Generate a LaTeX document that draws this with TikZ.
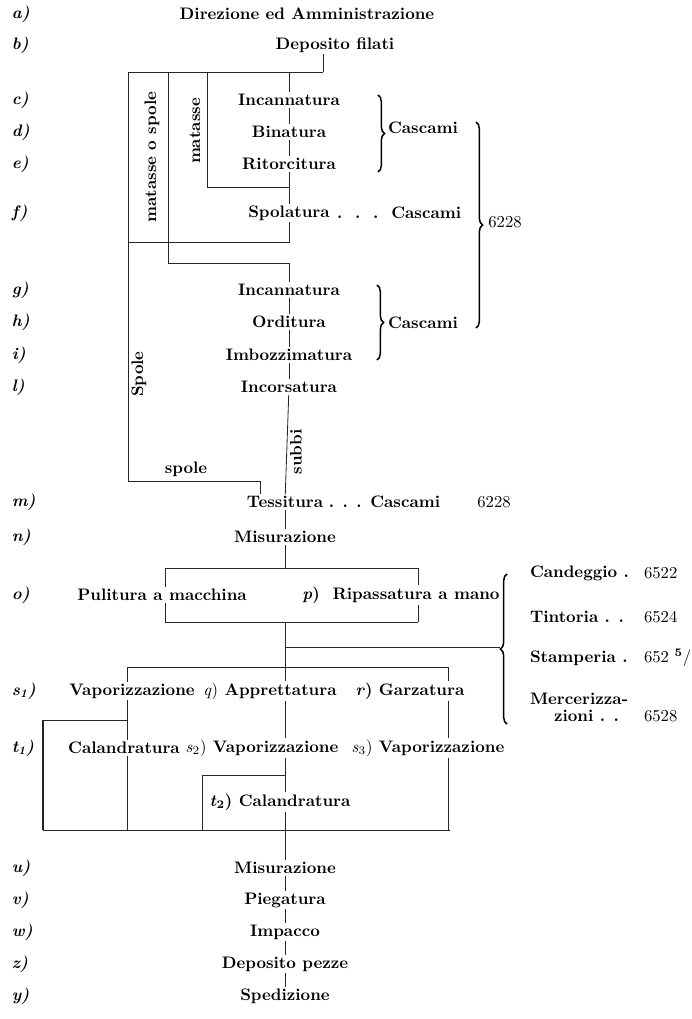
\documentclass[tikz,border=0pt]{standalone}
\usetikzlibrary{positioning,decorations.pathreplacing}
\begin{document}
\begin{tikzpicture}[x=0.6pt,y=-0.6pt]
    % Define the styles for the stages, letters, lines and braces
    \tikzstyle{stage}=[font=\bfseries, inner sep=1pt]
    \tikzstyle{plain}=[inner sep=1pt]
    \tikzstyle{letter}=[font=\bfseries\itshape, inner sep=1pt, anchor=west]
    \tikzstyle{side}=[font=\bfseries, inner sep=1pt, rotate=90]
    \tikzstyle{link}=[line width=0.5pt, black!85]
    \tikzstyle{cbrace}=[line width=0.9pt, decorate, decoration={brace, amplitude=4pt}]

    \useasboundingbox (0,0) rectangle (692,1019);

    % Draw the row letters
    \node[letter] (la) at (10,14) {a)};
    \node[letter] (lb) at (10,45) {b)};
    \node[letter] (lc) at (10,100) {c)};
    \node[letter] (ld) at (10,132) {d)};
    \node[letter] (le) at (10,164) {e)};
    \node[letter] (lf) at (10,213) {f)};
    \node[letter] (lg) at (10,290) {g)};
    \node[letter] (lh) at (10,322) {h)};
    \node[letter] (li) at (10,355) {i)};
    \node[letter] (ll) at (10,387) {l)};
    \node[letter] (lm) at (10,502) {m)};
    \node[letter] (ln) at (10,537) {n)};
    \node[letter] (lo) at (10,595) {o)};
    \node[letter] (ls) at (10,691) {s\textsubscript{1})};
    \node[letter] (lt) at (10,748) {t\textsubscript{1})};
    \node[letter] (lu) at (10,868) {u)};
    \node[letter] (lv) at (10,900) {v)};
    \node[letter] (lw) at (10,932) {w)};
    \node[letter] (lz) at (10,964) {z)};
    \node[letter] (ly) at (10,996) {y)};

    % Draw the stages of the upper part
    \node[stage] (direz) at (307,14) {Direzione ed Amministrazione};
    \node[stage] (depfil) at (335,45) {Deposito filati};
    \node[stage] (incann1) at (289,100) {Incannatura};
    \node[stage] (binat) at (289,132) {Binatura};
    \node[stage] (ritorc) at (289,164) {Ritorcitura};
    \node[stage] (spolat) at (289,213) {Spolatura};
    \node[stage, right=2pt of spolat] (spolcasc) {.\ \ .\ \ .\ \ Cascami};
    \node[stage] (cascA) at (423,128) {Cascami};
    \node[plain] (num1) at (505,222) {6228};
    \node[stage] (incann2) at (289,290) {Incannatura};
    \node[stage] (ordit) at (289,322) {Orditura};
    \node[stage] (imbozz) at (289,355) {Imbozzimatura};
    \node[stage] (incors) at (289,387) {Incorsatura};
    \node[stage] (cascB) at (423,323) {Cascami};

    % Draw the labels along the lines
    \node[side] (lmatsp) at (152,157) {matasse o spole};
    \node[side] (lmat) at (195,131) {matasse};
    \node[side] (lSpole) at (139,374) {Spole};
    \node[stage] (lspole) at (186,469) {spole};
    \node[side] (lsubbi) at (296,452) {subbi};

    % Draw the stages of the lower part
    \node[stage] (tessit) at (285,502) {Tessitura};
    \node[stage, right=1pt of tessit] (tesscasc) {. . . Cascami};
    \node[plain] (num2) at (494,502) {6228};
    \node[stage] (misur1) at (285,537) {Misurazione};
    \node[stage] (pulit) at (162,595) {Pulitura a macchina};
    \node[stage] (ripass) at (401,595) {\textit{p})\ \ Ripassatura a mano};
    \node[stage] (vapor1) at (132,691) {Vaporizzazione};
    \node[stage] (appret) at (270,691) {\textmd{\textit{q})} Apprettatura};
    \node[stage] (garzat) at (410,691) {\textit{r}) Garzatura};
    \node[stage] (caland1) at (124,748) {Calandratura};
    \node[stage] (vapor2) at (262,748) {\textmd{\textit{s}\textsubscript{2})} Vaporizzazione};
    \node[stage] (vapor3) at (428,748) {\textmd{\textit{s}\textsubscript{3})} Vaporizzazione};
    \node[stage] (caland2) at (280,802) {\textit{t}\textsubscript{2}) Calandratura};
    \node[stage] (misur2) at (285,868) {Misurazione};
    \node[stage] (piegat) at (285,900) {Piegatura};
    \node[stage] (impacc) at (285,932) {Impacco};
    \node[stage] (deppez) at (285,964) {Deposito pezze};
    \node[stage] (spediz) at (285,996) {Spedizione};

    % Draw the finishing works on the right
    \node[stage, anchor=west] (candeg) at (528,573) {Candeggio .};
    \node[plain, anchor=west] (n6522) at (642,573) {6522};
    \node[stage, anchor=west] (tintor) at (528,617) {Tintoria . .};
    \node[plain, anchor=west] (n6524) at (642,617) {6524};
    \node[stage, anchor=west] (stamp) at (528,658) {Stamperia .};
    \node[plain, anchor=west] (n652) at (642,658) {652 \textsuperscript{\bfseries 5}/};
    \node[stage, anchor=west] (mercer) at (528,699) {Mercerizza-};
    \node[stage, anchor=west] (zioni) at (552,716) {zioni . .};
    \node[plain, anchor=west] (n6528) at (642,716) {6528};

    % Corners of the lines
    \coordinate (busL) at (128,72);
    \coordinate (busR) at (323,72);
    \coordinate (msT) at (168,72);
    \coordinate (msB) at (168,263);
    \coordinate (mT) at (207,72);
    \coordinate (mB) at (207,187);
    \coordinate (splitA) at (128,242);
    \coordinate (spoleC) at (128,481);
    \coordinate (spoleD) at (260,481);
    \coordinate (boxTL) at (165,568);
    \coordinate (boxTR) at (418,568);
    \coordinate (boxBL) at (165,622);
    \coordinate (boxBR) at (418,622);
    \coordinate (dyeTip) at (500,647);
    \coordinate (sL) at (127,667);
    \coordinate (sM) at (285,667);
    \coordinate (sR) at (448,667);
    \coordinate (t1box) at (43,720);
    \coordinate (t2box) at (202,775);
    \coordinate (botL) at (43,830);
    \coordinate (botR) at (450,830);

    % Draw the lines of the upper part
    \draw[link] (busR |- depfil.south) -- (busR);
    \draw[link] (busL) -- (busR);
    \draw[link] (busL) -- (spoleC) -- (spoleD) -- (spoleD |- tessit.north);
    \draw[link] (msT) -- (msB) -- (msB -| incann2) -- (incann2.north);
    \draw[link] (mT) -- (mB) -- (mB -| ritorc);
    \draw[link] (busR -| incann1) -- (incann1.north);
    \draw[link] (incann1) -- (binat);
    \draw[link] (binat) -- (ritorc);
    \draw[link] (ritorc) -- (spolat);
    \draw[link] (spolat.south) -- (spolat.south |- splitA) -- (splitA);
    \draw[link] (incann2) -- (ordit);
    \draw[link] (ordit) -- (imbozz);
    \draw[link] (imbozz) -- (incors);
    \draw[link] (incors) -- (tessit);
    \draw[link] (tessit) -- (misur1);

    % Draw the braces
    \coordinate (brA1) at (378,95);
    \coordinate (brA2) at (378,172);
    \coordinate (brB1) at (377,285);
    \coordinate (brB2) at (377,360);
    \coordinate (brC1) at (476,122);
    \coordinate (brC2) at (476,328);
    \coordinate (brD1) at (507,574);
    \coordinate (brD2) at (507,724);
    \draw[cbrace] (brA1) -- (brA2);
    \draw[cbrace] (brB1) -- (brB2);
    \draw[cbrace] (brC1) -- (brC2);
    \draw[cbrace] (brD2) -- (brD1);

    % Draw the lines of the lower part
    \draw[link] (misur1.south) -- (misur1.south |- boxTL);
    \draw[link] (boxTL) -- (boxTR);
    \draw[link] (boxBL) -- (boxBR);
    \draw[link] (boxTL) -- (boxTL |- pulit.north);
    \draw[link] (boxBL) -- (boxBL |- pulit.south);
    \draw[link] (boxTR) -- (boxTR |- ripass.north);
    \draw[link] (boxBR) -- (boxBR |- ripass.south);
    \draw[link] (sM |- boxBL) -- (sM);
    \draw[link] (sM |- dyeTip) -- (dyeTip);
    \draw[link] (sL) -- (sR);
    \draw[link] (sL) -- (sL |- vapor1.north);
    \draw[link] (sM) -- (sM |- appret.north);
    \draw[link] (sR) -- (sR |- garzat.north);
    \draw[link] (sL |- vapor1.south) -- (sL |- caland1.north);
    \draw[link] (sM |- appret.south) -- (sM |- vapor2.north);
    \draw[link] (sR |- garzat.south) -- (sR |- vapor3.north);
    \draw[link] (sL |- t1box) -- (t1box);
    \draw[link, line width=1pt] (t1box) -- (botL);
    \draw[link] (sL |- caland1.south) -- (sL |- botL);
    \draw[link] (sM |- t2box) -- (t2box) -- (t2box |- botL);
    \draw[link] (sM |- vapor2.south) -- (sM |- caland2.north);
    \draw[link] (sM |- caland2.south) -- (sM |- botL);
    \draw[link] (sR |- vapor3.south) -- (sR |- botL);
    \draw[link] (botL) -- (botR);
    \draw[link] (sM |- botL) -- (misur2.north);
    \draw[link] (misur2) -- (piegat);
    \draw[link] (piegat) -- (impacc);
    \draw[link] (impacc) -- (deppez);
    \draw[link] (deppez) -- (spediz);
\end{tikzpicture}
\end{document}
